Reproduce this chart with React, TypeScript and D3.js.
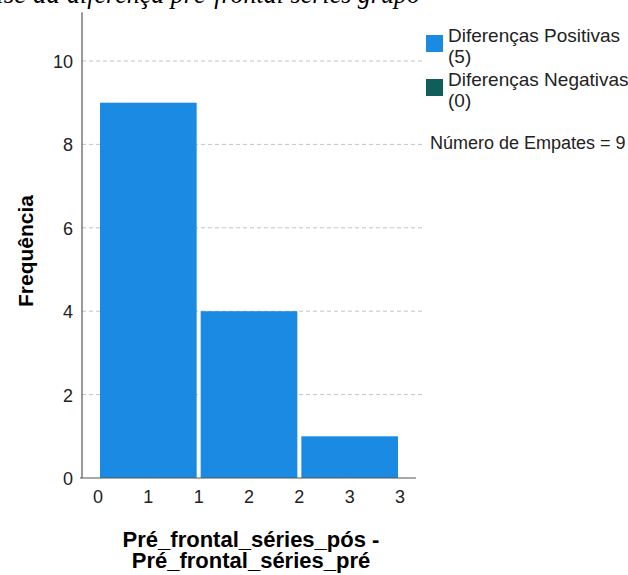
import React from "react";
import * as d3 from "d3";

const binStarts = [0.5, 1.5, 2.5];
const binEnds = [1.5, 2.5, 3.5];
const counts = [9, 4, 1];
const xTickValues = [0.5, 1, 1.5, 2, 2.5, 3, 3.5];
const xTickLabels = ["0", "1", "1", "2", "2", "3", "3"];
const yTickValues = [0, 2, 4, 6, 8, 10];
const gridValues = [2, 4, 6, 8, 10];
const legendLabels = ["Diferenças Positivas", "Diferenças Negativas"];
const legendCounts = ["(5)", "(0)"];
const legendColors = ["#1b8ae3", "#0f5e5c"];
const tiesText = "Número de Empates = 9";
const titlePrefix = "Análise da";
const titleRest = "diferença pré-frontal séries grupo";
const yTitle = "Frequência";
const xTitleLines = ["Pré_frontal_séries_pós -", "Pré_frontal_séries_pré"];

const W = 628;
const H = 575;
const sans = "'Liberation Sans', Arial, sans-serif";
const serif = "'Liberation Serif', 'Times New Roman', serif";

export default function App() {
  const x = d3.scaleLinear().domain([0.5, 3.5]).range([98, 400]);
  const y = d3.scaleLinear().domain([0, 10]).range([478, 61]);
  const yTop = y(11.17);
  const axisColor = "#555";

  return (
    <svg
      width={W}
      height={H}
      style={{ position: "absolute", left: 0, top: 0, background: "#fff" }}
      fontFamily={sans}
    >
      <rect x={0} y={0} width={W} height={H} fill="#fff" />
      {/* clipped title */}
      <text
        x={60}
        y={3}
        fontFamily={serif}
        fontStyle="italic"
        fontSize={27}
        textAnchor="end"
        fill="#000"
      >
        {titlePrefix}
      </text>
      <text
        x={67}
        y={3}
        fontFamily={serif}
        fontStyle="italic"
        fontSize={27}
        textLength={353}
        lengthAdjust="spacingAndGlyphs"
        fill="#000"
      >
        {titleRest}
      </text>

      {/* gridlines */}
      {gridValues.map((v) => (
        <line
          key={"g" + v}
          x1={82}
          x2={422}
          y1={y(v)}
          y2={y(v)}
          stroke="#c4c4c4"
          strokeWidth={1}
          strokeDasharray="4,3"
        />
      ))}

      {/* bars */}
      {counts.map((c, i) => (
        <rect
          key={"b" + i}
          x={x(binStarts[i]) + 2}
          width={x(binEnds[i]) - x(binStarts[i]) - 4}
          y={y(c)}
          height={y(0) - y(c)}
          fill={legendColors[0]}
        />
      ))}

      {/* axes */}
      <line x1={82} x2={82} y1={yTop} y2={y(0)} stroke={axisColor} strokeWidth={1.2} />
      <line x1={80} x2={416} y1={y(0)} y2={y(0)} stroke={axisColor} strokeWidth={1.2} />

      {yTickValues.map((v) => (
        <text
          key={"yt" + v}
          x={73}
          y={y(v) + 7}
          textAnchor="end"
          fontSize={18}
          fill="#222"
        >
          {v}
        </text>
      ))}
      {xTickValues.map((v, i) => (
        <text
          key={"xt" + i}
          x={x(v)}
          y={503}
          textAnchor="middle"
          fontSize={18}
          fill="#222"
        >
          {xTickLabels[i]}
        </text>
      ))}

      {/* axis titles */}
      <text
        transform={`translate(33,251) rotate(-90)`}
        textAnchor="middle"
        fontSize={21}
        fontWeight="bold"
        fill="#000"
      >
        {yTitle}
      </text>
      {xTitleLines.map((t, i) => (
        <text
          key={"xl" + i}
          x={251}
          y={547 + i * 21}
          textAnchor="middle"
          fontSize={22}
          fontWeight="bold"
          fill="#000"
        >
          {t}
        </text>
      ))}

      {/* legend */}
      {legendLabels.map((l, i) => (
        <g key={"lg" + i} transform={`translate(0,${i * 44})`}>
          <rect x={426} y={35} width={17} height={17} fill={legendColors[i]} />
          <text x={448} y={42} fontSize={19} fill="#222">
            {l}
          </text>
          <text x={448} y={63} fontSize={19} fill="#222">
            {legendCounts[i]}
          </text>
        </g>
      ))}
      <text x={430} y={149} fontSize={18} fill="#222">
        {tiesText}
      </text>
    </svg>
  );
}
